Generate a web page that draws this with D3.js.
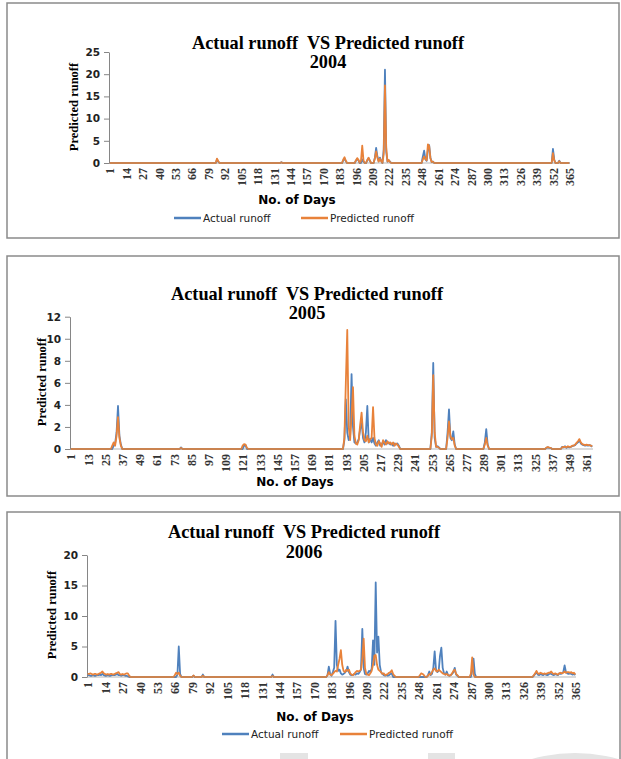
<!DOCTYPE html>
<html>
<head>
<meta charset="utf-8">
<script src="https://cdn.jsdelivr.net/npm/d3@7/dist/d3.min.js"></script>
<style>
  body { margin: 0; background: #fff; }
  svg { display: block; }
  .title { font-family: "Liberation Serif", serif; font-weight: bold; font-size: 18.3px; white-space: pre; }
  .ylab { font-family: "Liberation Serif", serif; font-weight: bold; font-size: 12.5px; }
  .xlab { font-family: "DejaVu Sans", sans-serif; font-weight: bold; font-size: 12px; }
  .legend { font-family: "DejaVu Sans", sans-serif; font-size: 10.5px; fill: #222; }
</style>
</head>
<body>
<svg id="chart" width="621" height="759"></svg>
<script>
// runs of non-zero days: [first day, [values for consecutive days]]; every other day is 0
const actual2004 = [
  [86, [0.8, 0.3]], [137, [0.2]], [186, [0.6, 1.0, 0.4]], [196, [0.5, 0.9, 0.6]],
  [201, [0.8, 0.3]], [205, [0.6, 1.1, 0.5]], [211, [1.2, 3.4, 1.5, 0.4, 1.2, 0.5]],
  [218, [3.0, 21, 2.5, 0.3, 0.6, 0.3]], [249, [1.5, 2.8, 0.8, 0.5, 3.0, 4.0, 1.2, 0.2, 0.3]],
  [352, [3.2, 0.8]], [357, [0.5]]
];
const predicted2004 = [
  [86, [1.0, 0.4]], [137, [0.15]], [186, [0.8, 1.3, 0.5]], [196, [0.6, 1.1, 0.7]],
  [200, [0.5, 3.9, 0.6]], [205, [0.7, 1.2, 0.6]], [211, [1.0, 2.6, 1.2, 0.3, 1.0, 0.4]],
  [218, [2.0, 17.5, 3.5, 0.3, 0.7, 0.2]], [249, [0.8, 1.5, 0.9, 0.6, 4.2, 3.8, 1.0, 0.2, 0.3]],
  [352, [2.2, 0.6]], [357, [0.4]]
];

const actual2005 = [
  [31, [0.3, 0.5, 1.5, 3.9, 1.2, 0.4]], [78, [0.15]], [122, [0.3, 0.35]],
  [192, [0.8, 4.5, 1.5, 0.8, 1.2, 6.8, 2.0, 0.6, 0.5, 0.6, 0.9, 1.8, 2.5, 1.0, 0.6, 1.5, 3.9, 0.6, 0.9,
         0.6, 1.0, 0.5, 0.3, 0.6, 0.8, 0.3, 0.4, 0.7, 0.4, 0.8, 0.5, 0.6, 0.4, 0.5, 0.3, 0.5, 0.4, 0.5, 0.3]],
  [253, [1.5, 7.8, 1.0, 0.2, 0.25, 0.15]], [264, [1.5, 3.6, 1.0, 0.8, 1.6, 0.4]], [290, [0.6, 1.8, 0.4]],
  [333, [0.1, 0.15, 0.1, 0.1]],
  [344, [0.2, 0.15, 0.25, 0.1, 0.2, 0.15, 0.2, 0.25, 0.3, 0.35, 0.5, 0.6, 0.8, 0.5, 0.4, 0.35, 0.3, 0.35, 0.3, 0.35, 0.3, 0.2]]
];
const predicted2005 = [
  [30, [0.3, 0.6, 0.3, 1.2, 2.9, 1.0, 0.3]], [78, [0.1]], [121, [0.3, 0.45, 0.4, 0.1]],
  [192, [1.0, 6.0, 10.8, 2.0, 0.8, 3.0, 5.6, 1.2, 0.5, 0.4, 0.8, 2.2, 3.3, 1.5, 0.8, 0.7, 1.2, 0.6, 0.9,
         1.0, 3.8, 1.0, 0.4, 0.3, 0.7, 0.5, 0.2, 0.8, 0.6, 0.4, 0.7, 0.5, 0.6, 0.4, 0.6, 0.3, 0.5, 0.4, 0.2]],
  [253, [1.2, 6.7, 1.5, 0.2, 0.2, 0.1]], [264, [1.0, 2.5, 1.2, 0.9, 1.0, 0.3]], [290, [0.4, 1.0, 0.3]],
  [333, [0.12, 0.18, 0.12, 0.1]],
  [344, [0.15, 0.2, 0.2, 0.15, 0.25, 0.2, 0.2, 0.3, 0.3, 0.4, 0.55, 0.7, 0.9, 0.6, 0.45, 0.4, 0.35, 0.4, 0.35, 0.35, 0.3, 0.25]]
];

const actual2006 = [
  [1, [0.3, 0.3, 0.2, 0.2, 0.3, 0.2, 0.2, 0.3, 0.3, 0.4, 0.3, 0.5, 0.3, 0.2, 0.2, 0.3, 0.2, 0.2, 0.3, 0.3,
       0.3, 0.4, 0.5, 0.3, 0.3, 0.2, 0.3, 0.3, 0.2, 0.2, 0.1]],
  [68, [0.4, 5.0, 0.5]], [80, [0.2]], [87, [0.4]], [139, [0.4]],
  [180, [0.3, 1.7, 0.5, 0.2, 0.8, 1.5, 9.2, 2.0, 1.0, 1.2, 0.6, 0.4, 0.5, 0.7, 1.0, 1.7, 0.8, 0.4, 0.3, 0.3,
         0.5, 0.4, 0.6, 0.5, 0.8, 1.2, 7.9, 1.5, 0.5, 0.4, 0.6, 1.0, 0.8, 1.4, 6.0, 2.0, 15.5, 4.0, 6.6, 2.0,
         0.8, 0.5, 0.3, 0.2, 0.3, 0.2, 0.3, 0.5, 0.6]],
  [255, [0.3, 0.9, 0.3, 0.5, 1.5, 4.2, 1.2, 0.8, 1.0, 3.5, 4.8, 1.5, 0.6, 0.4, 0.9, 0.3, 0.2, 0.3, 0.5, 0.8,
         1.5, 0.4, 0.2]],
  [288, [1.0, 3.0, 0.5]],
  [334, [0.2, 0.5, 0.8, 0.4, 0.3, 0.5, 0.4, 0.3, 0.5, 0.4, 0.3, 0.4, 0.6, 0.5, 0.4, 0.3, 0.5, 0.4, 0.3, 0.6,
         0.5, 0.6, 0.8, 1.9, 0.8, 0.6, 0.5, 0.6, 0.5, 0.4, 0.5, 0.3]]
];
const predicted2006 = [
  [1, [0.5, 0.5, 0.6, 0.5, 0.4, 0.5, 0.5, 0.4, 0.5, 0.6, 0.7, 0.9, 0.6, 0.5, 0.4, 0.5, 0.4, 0.5, 0.5, 0.4,
       0.5, 0.6, 0.7, 0.8, 0.5, 0.4, 0.5, 0.4, 0.5, 0.6, 0.6, 0.2]],
  [66, [0.3, 0.7, 0.5, 0.7, 0.2]], [80, [0.25]], [87, [0.2]], [139, [0.15]],
  [180, [0.3, 0.8, 0.4, 0.3, 0.5, 0.8, 1.0, 0.9, 2.0, 3.0, 4.4, 2.0, 1.0, 0.8, 1.2, 1.0, 1.2, 0.6, 0.4, 0.3,
         0.5, 0.8, 1.0, 0.9, 1.0, 1.2, 3.0, 6.3, 1.5, 0.5, 0.4, 0.3, 0.6, 1.0, 2.0, 3.5, 3.6, 2.0, 1.2, 1.0,
         0.8, 0.5, 0.6, 0.3, 0.4, 0.5, 0.7, 0.8, 1.1, 0.5, 0.2]],
  [249, [0.3, 0.6, 0.5, 0.3]],
  [255, [0.2, 0.5, 0.4, 0.8, 1.2, 1.4, 1.0, 0.9, 1.2, 1.0, 0.8, 0.6, 0.5, 0.4, 0.5, 0.3, 0.2, 0.3, 0.6, 1.0,
         1.2, 0.5, 0.3]],
  [287, [0.5, 3.2, 0.4]],
  [334, [0.3, 0.6, 1.0, 0.6, 0.5, 0.7, 0.6, 0.5, 0.6, 0.5, 0.6, 0.7, 0.7, 0.9, 0.6, 0.5, 0.6, 0.5, 0.4, 0.6,
         0.7, 0.6, 0.7, 0.9, 0.7, 0.8, 0.8, 0.7, 0.8, 0.6, 0.7, 0.4]]
];

const ticks2004 = [1, 14, 27, 40, 53, 66, 79, 92, 105, 118, 131, 144, 157, 170, 183, 196, 209, 222, 235, 248, 261, 274, 287, 300, 313, 326, 339, 352, 365];
const ticks2005 = [1, 13, 25, 37, 49, 61, 73, 85, 97, 109, 121, 133, 145, 157, 169, 181, 193, 205, 217, 229, 241, 253, 265, 277, 289, 301, 313, 325, 337, 349, 361];
const ticks2006 = [1, 14, 27, 40, 53, 66, 79, 92, 105, 118, 131, 144, 157, 170, 183, 196, 209, 222, 235, 248, 261, 274, 287, 300, 313, 326, 339, 352, 365];
const yTicks2004 = [0, 5, 10, 15, 20, 25];
const yTicks2005 = [0, 2, 4, 6, 8, 10, 12];
const yTicks2006 = [0, 5, 10, 15, 20];

const seriesNames = ["Actual runoff", "Predicted runoff"];
const colors = ["#4f81bd", "#e8823a"];
const days = d3.range(1, 366);

function expand(runs) {
  const v = days.map(d => ({ day: d, v: 0 }));
  runs.forEach(([start, vals]) => vals.forEach((val, i) => { v[start - 1 + i].v = val; }));
  return v;
}

const svg = d3.select("#chart");

// watermark shapes peeking in at the bottom
svg.append("rect").attr("x", 280).attr("y", 753).attr("width", 28).attr("height", 10).attr("fill", "#e4e4e4");
svg.append("rect").attr("x", 428).attr("y", 753).attr("width", 27).attr("height", 10).attr("fill", "#e4e4e4");
svg.append("circle").attr("cx", 575).attr("cy", 910).attr("r", 157).attr("fill", "#e4e4e4");

const panels = [
  { year: "2004", box: [7, 3, 619, 238], left: 109, right: 570, top: 52, bottom: 163, yMax: 25,
    yTicks: yTicks2004, xTicks: ticks2004, actual: actual2004, predicted: predicted2004,
    titleX: 328, titleY: 49, yearY: 68, yLabX: 74, yLabY: 107, xLabX: 297, xLabY: 204,
    legend: { y: 218, x: [174, 301] } },
  { year: "2005", box: [7, 256, 619, 496], left: 70, right: 593, top: 316.7, bottom: 449, yMax: 12,
    yTicks: yTicks2005, xTicks: ticks2005, actual: actual2005, predicted: predicted2005,
    titleX: 307, titleY: 300, yearY: 319, yLabX: 42, yLabY: 382, xLabX: 295, xLabY: 486,
    legend: null },
  { year: "2006", box: [7, 512, 620, 780], left: 87, right: 576, top: 555, bottom: 677, yMax: 20,
    yTicks: yTicks2006, xTicks: ticks2006, actual: actual2006, predicted: predicted2006,
    titleX: 304, titleY: 538, yearY: 558, yLabX: 52, yLabY: 615, xLabX: 315, xLabY: 721,
    legend: { y: 734, x: [222, 340] } }
];

panels.forEach(p => {
  const g = svg.append("g");
  g.append("rect")
    .attr("x", p.box[0]).attr("y", p.box[1])
    .attr("width", p.box[2] - p.box[0]).attr("height", p.box[3] - p.box[1])
    .attr("fill", "none").attr("stroke", "#8a8a8a").attr("stroke-width", 1.5);

  const x = d3.scalePoint().domain(days).range([p.left, p.right]).padding(0.5);
  const y = d3.scaleLinear().domain([0, p.yMax]).range([p.bottom, p.top]);

  const yAxis = g.append("g")
    .attr("transform", `translate(${p.left},0)`)
    .call(d3.axisLeft(y).tickValues(p.yTicks).tickSize(5).tickSizeOuter(0).tickPadding(4));
  yAxis.selectAll("path, line").attr("stroke", "#868686");
  yAxis.selectAll("text")
    .style("font-family", "'DejaVu Sans', sans-serif").style("font-weight", "bold")
    .style("font-size", "10.5px").attr("fill", "#222");

  const xAxis = g.append("g")
    .attr("transform", `translate(0,${p.bottom})`)
    .call(d3.axisBottom(x).tickValues(p.xTicks).tickSize(0).tickSizeOuter(0));
  xAxis.select(".domain").remove();
  xAxis.selectAll("text")
    .style("font-family", "'Liberation Serif', serif").style("font-weight", "bold")
    .style("font-size", "12px").attr("fill", "#333")
    .attr("text-anchor", "end")
    .attr("transform", "rotate(-90)")
    .attr("x", -5).attr("y", 0).attr("dy", "0.35em");

  const line = d3.line().x(d => x(d.day)).y(d => y(d.v));
  [p.actual, p.predicted].forEach((runs, i) => {
    g.append("path")
      .datum(expand(runs))
      .attr("fill", "none")
      .attr("stroke", colors[i])
      .attr("stroke-width", 1.8)
      .attr("stroke-linejoin", "round")
      .attr("d", line);
  });

  g.append("line")
    .attr("x1", p.left).attr("x2", p.right).attr("y1", p.bottom).attr("y2", p.bottom)
    .attr("stroke", "#868686").attr("stroke-width", 1).attr("opacity", 0.6);

  g.append("text").attr("class", "title")
    .attr("x", p.titleX).attr("y", p.titleY).attr("text-anchor", "middle")
    .text("Actual runoff  VS Predicted runoff");
  g.append("text").attr("class", "title")
    .attr("x", p.titleX).attr("y", p.yearY).attr("text-anchor", "middle")
    .text(p.year);

  g.append("text").attr("class", "ylab")
    .attr("transform", `translate(${p.yLabX + 4},${p.yLabY}) rotate(-90)`)
    .attr("text-anchor", "middle")
    .text("Predicted runoff");

  g.append("text").attr("class", "xlab")
    .attr("x", p.xLabX).attr("y", p.xLabY).attr("text-anchor", "middle")
    .text("No. of Days");

  if (p.legend) {
    seriesNames.forEach((name, i) => {
      const lx = p.legend.x[i];
      g.append("line")
        .attr("x1", lx).attr("x2", lx + 27).attr("y1", p.legend.y).attr("y2", p.legend.y)
        .attr("stroke", colors[i]).attr("stroke-width", 2.5);
      g.append("text").attr("class", "legend")
        .attr("x", lx + 29).attr("y", p.legend.y + 4)
        .text(name);
    });
  }
});
</script>
</body>
</html>
